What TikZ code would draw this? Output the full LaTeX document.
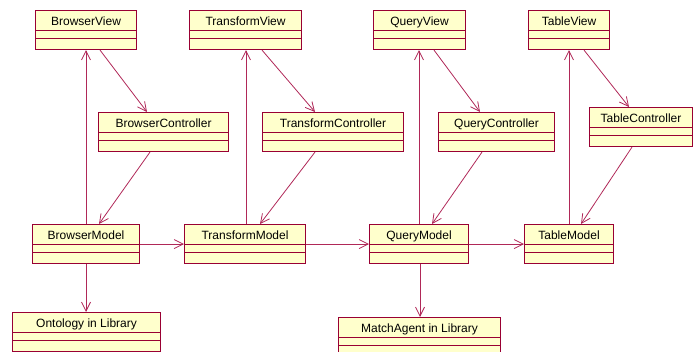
\documentclass[tikz,border=0pt]{standalone}
\usepackage{fontspec}
\setmainfont{Liberation Sans}
\usetikzlibrary{arrows.meta,calc}
\definecolor{umlfill}{HTML}{FFFFCC}
\definecolor{umlborder}{HTML}{990033}
\definecolor{umlconn}{HTML}{B02858}
\tikzset{
  umlbox/.style={draw=umlborder, fill=umlfill, line width=1.1pt, rectangle, inner sep=0pt},
  umlsep/.style={draw=umlborder, line width=0.9pt},
  umltext/.style={font=\fontsize{12}{14}\selectfont, text=black, inner sep=0pt, anchor=base},
  assoc/.style={draw=umlconn, line width=0.8pt, -{Straight Barb[length=9pt,width=9pt,line width=0.8pt]}}
}
\newcommand\umlclass[6]{%
  \node[umlbox, minimum width={#4-#2}, minimum height={#5-#3}, anchor=north west] (#1) at (#2,#3) {};
  \draw[umlsep] ([yshift=-20.5pt]#1.north west) -- ([yshift=-20.5pt]#1.north east);
  \draw[umlsep] ([yshift=-28pt]#1.north west) -- ([yshift=-28pt]#1.north east);
  \node[umltext] (#1t) at ([yshift=-15.5pt]#1.north) {#6};
}
\begin{document}
\begin{tikzpicture}[x=1pt,y=-1pt]
\useasboundingbox (0,0) rectangle (693,352);
\umlclass{BV}{35}{10}{136}{49}{BrowserView}
\umlclass{BC}{98}{112}{228}{151}{BrowserController}
\umlclass{BM}{32}{224}{139}{263}{BrowserModel}
\umlclass{ON}{12}{312}{160}{351}{Ontology in Library}
\umlclass{TV}{189}{10}{301}{49}{TransformView}
\umlclass{TC}{262}{112}{403}{151}{TransformController}
\umlclass{TM}{184}{224}{305}{263}{TransformModel}
\umlclass{QV}{373}{10}{465}{49}{QueryView}
\umlclass{QC}{438}{112}{554}{151}{QueryController}
\umlclass{QM}{369}{224}{468}{263}{QueryModel}
\umlclass{MA}{338}{317}{500}{358}{MatchAgent in Library}
\umlclass{TaV}{528}{10}{609}{49}{TableView}
\umlclass{TaC}{589}{107}{692}{146}{TableController}
\umlclass{TaM}{524}{224}{613}{263}{TableModel}
% Browser
\coordinate (b1) at ($(BM.north west)+(54,0)$);
\draw[assoc] (b1) -- (b1 |- BV.south);
\draw[assoc] ($(BV.south west)+(65,0)$) -- ($(BC.north west)+(49,0)$);
\draw[assoc] ($(BC.south west)+(52,0)$) -- ($(BM.north west)+(67,0)$);
\draw[assoc] (BM.east) -- (TM.west);
\coordinate (b2) at ($(BM.south west)+(54,0)$);
\draw[assoc] (b2) -- (b2 |- ON.north);
% Transform
\coordinate (t1) at ($(TM.north west)+(62,0)$);
\draw[assoc] (t1) -- (t1 |- TV.south);
\draw[assoc] ($(TV.south west)+(73,0)$) -- ($(TC.north west)+(53,0)$);
\draw[assoc] ($(TC.south west)+(53,0)$) -- ($(TM.north west)+(76,0)$);
\draw[assoc] (TM.east) -- (QM.west);
% Query
\coordinate (q1) at ($(QM.north west)+(50,0)$);
\draw[assoc] (q1) -- (q1 |- QV.south);
\draw[assoc] ($(QV.south west)+(61,0)$) -- ($(QC.north west)+(42,0)$);
\draw[assoc] ($(QC.south west)+(44,0)$) -- ($(QM.north west)+(63,0)$);
\draw[assoc] (QM.east) -- (TaM.west);
\coordinate (q2) at ($(QM.south west)+(51,0)$);
\draw[assoc] (q2) -- (q2 |- MA.north);
% Table
\coordinate (a1) at ($(TaM.north west)+(45,0)$);
\draw[assoc] (a1) -- (a1 |- TaV.south);
\draw[assoc] ($(TaV.south west)+(56,0)$) -- ($(TaC.north west)+(40,0)$);
\draw[assoc] ($(TaC.south west)+(43,0)$) -- ($(TaM.north west)+(57,0)$);
\end{tikzpicture}
\end{document}
